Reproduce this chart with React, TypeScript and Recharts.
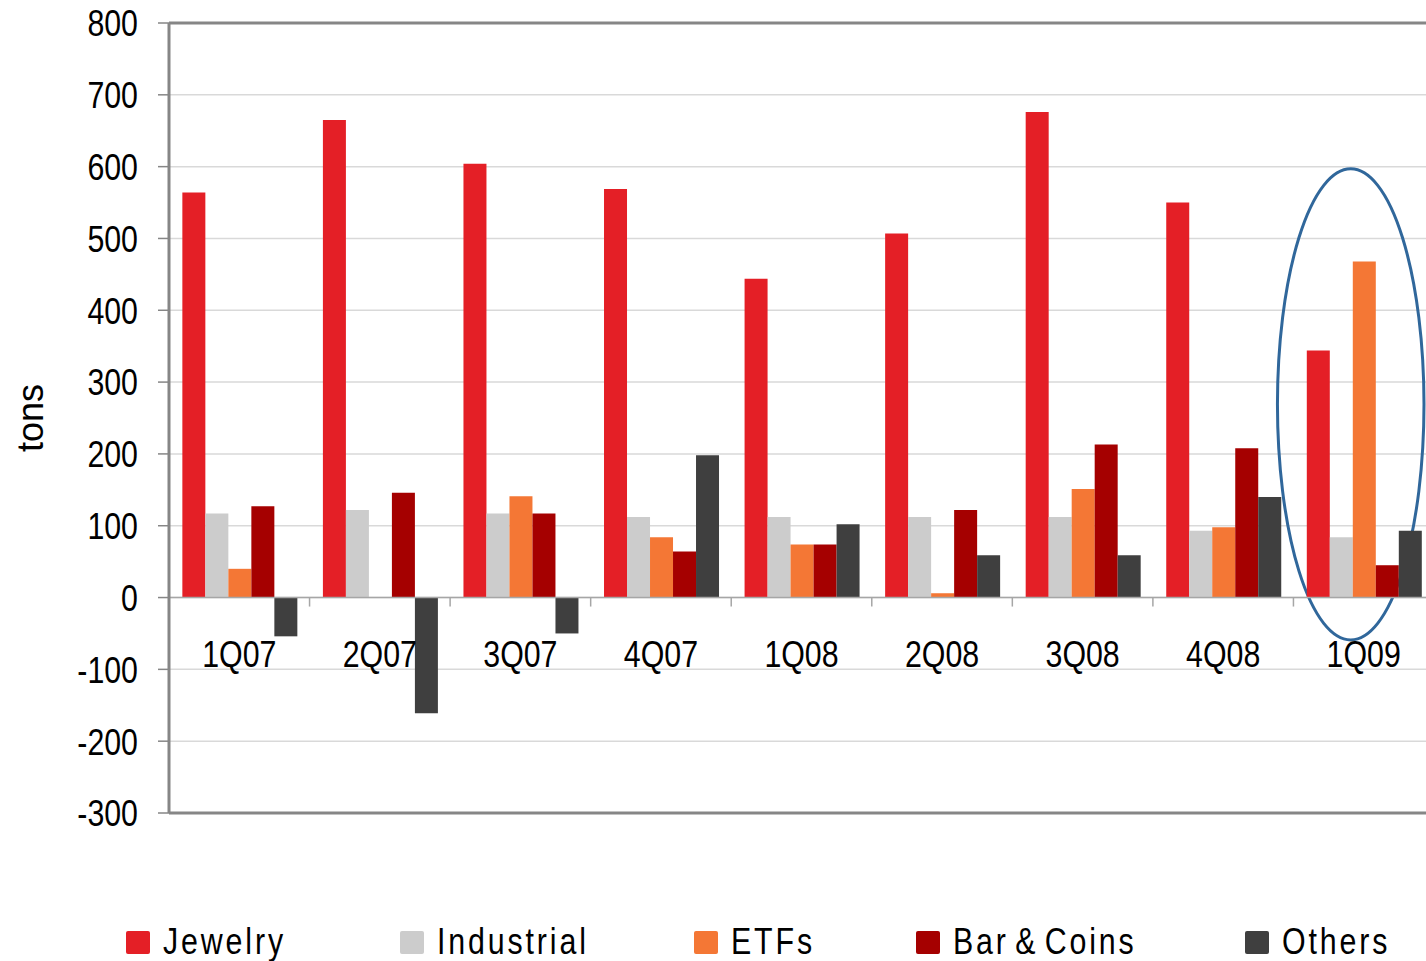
import React from "react";
import {
  BarChart,
  Bar,
  XAxis,
  YAxis,
  CartesianGrid,
  ReferenceLine,
  ReferenceArea,
} from "recharts";

const quarters = ["1Q07", "2Q07", "3Q07", "4Q07", "1Q08", "2Q08", "3Q08", "4Q08", "1Q09"];
const jewelry = [564, 665, 604, 569, 444, 507, 676, 550, 344];
const industrial = [117, 122, 117, 112, 112, 112, 112, 93, 84];
const etfs = [40, 0, 141, 84, 74, 6, 151, 98, 468];
const barCoins = [127, 146, 117, 64, 74, 122, 213, 208, 45];
const others = [-54, -161, -50, 198, 102, 59, 59, 140, 93];
const yTicks = [-300, -200, -100, 0, 100, 200, 300, 400, 500, 600, 700, 800];

const seriesList = [
  { key: "jewelry", name: "Jewelry", color: "#e41f26", values: jewelry },
  { key: "industrial", name: "Industrial", color: "#cccccc", values: industrial },
  { key: "etfs", name: "ETFs", color: "#f47735", values: etfs },
  { key: "barCoins", name: "Bar & Coins", color: "#a50000", values: barCoins },
  { key: "others", name: "Others", color: "#3f3f3f", values: others },
];

const data = quarters.map((q, i) => {
  const row: Record<string, string | number> = { quarter: q };
  for (const s of seriesList) row[s.key] = s.values[i];
  return row;
});

// no Arial Narrow here, so squeeze Liberation Sans horizontally
const FONT = '"Liberation Sans", Arial, sans-serif';
const SQUEEZE = 0.82;

const CHART_W = 1450;
const CHART_H = 961;
const PLOT_TOP = 23;
const PLOT_LEFT = 169;
const PLOT_BOTTOM = 813;
const PLOT_RIGHT = 1434;
const Y_MIN = -300;
const Y_MAX = 800;
const BAND = (PLOT_RIGHT - PLOT_LEFT) / quarters.length;
const ZERO_Y = PLOT_TOP + ((PLOT_BOTTOM - PLOT_TOP) * Y_MAX) / (Y_MAX - Y_MIN);

const legendLeft = [126, 400, 694, 916, 1245];

function QuarterTick(props: any) {
  const { x, payload } = props;
  return (
    <g>
      <line x1={x + BAND / 2} x2={x + BAND / 2} y1={ZERO_Y} y2={ZERO_Y + 9} stroke="#a6a6a6" strokeWidth={1.5} />
      <g transform={`translate(${x},${ZERO_Y + 69}) scale(${SQUEEZE},1)`}>
        <text x={0} y={0} textAnchor="middle" fontFamily={FONT} fontSize={37} fill="#000">
          {payload.value}
        </text>
      </g>
    </g>
  );
}

function ValueTick(props: any) {
  const { x, y, payload } = props;
  return (
    <g transform={`translate(${x},${y}) scale(${SQUEEZE},1)`}>
      <text x={0} y={0} dy="0.36em" textAnchor="end" fontFamily={FONT} fontSize={37} fill="#000">
        {payload.value}
      </text>
    </g>
  );
}

function Ellipse(props: any) {
  const { x, y, width, height } = props;
  return (
    <ellipse
      cx={x + width / 2 - 13}
      cy={y + height / 2}
      rx={width / 2 + 3}
      ry={height / 2}
      fill="none"
      stroke="#30679b"
      strokeWidth={3}
    />
  );
}

function TonsLabel(props: any) {
  const { viewBox } = props;
  const cx = 30;
  const cy = viewBox.y + viewBox.height / 2;
  return (
    <text
      x={cx}
      y={cy}
      transform={`rotate(-90 ${cx} ${cy})`}
      textAnchor="middle"
      dominantBaseline="central"
      fontFamily={FONT}
      fontSize={36}
      fill="#000"
    >
      tons
    </text>
  );
}

function LegendRow() {
  return (
    <div style={{ position: "absolute", left: 0, top: 922, width: 1426, height: 39 }}>
      {seriesList.map((s, i) => (
        <div
          key={s.key}
          style={{
            position: "absolute",
            left: legendLeft[i],
            top: 0,
            display: "flex",
            alignItems: "center",
            whiteSpace: "nowrap",
          }}
        >
          <span
            style={{
              display: "inline-block",
              width: 24,
              height: 23,
              background: s.color,
              borderRadius: 2,
              marginRight: 13,
              marginTop: 2,
            }}
          />
          <span
            style={{
              display: "inline-block",
              fontFamily: FONT,
              fontSize: 37,
              lineHeight: "39px",
              letterSpacing: 3.5,
              wordSpacing: -6,
              transform: `scaleX(${SQUEEZE})`,
              transformOrigin: "left center",
              color: "#000",
            }}
          >
            {s.name}
          </span>
        </div>
      ))}
    </div>
  );
}

export default function App() {
  return (
    <div
      style={{
        position: "absolute",
        left: 0,
        top: 0,
        width: 1426,
        height: 961,
        overflow: "hidden",
        background: "#fff",
      }}
    >
      <BarChart
        width={CHART_W}
        height={CHART_H}
        data={data}
        margin={{ top: PLOT_TOP, right: CHART_W - PLOT_RIGHT, bottom: CHART_H - PLOT_BOTTOM - 30, left: 0 }}
        barCategoryGap="9.5%"
        barGap={0}
      >
        <CartesianGrid vertical={false} stroke="#d9d9d9" strokeWidth={1.5} />
        <XAxis
          dataKey="quarter"
          height={30}
          axisLine={false}
          tickLine={false}
          tick={<QuarterTick />}
          interval={0}
        />
        <YAxis
          width={PLOT_LEFT}
          domain={[Y_MIN, Y_MAX]}
          ticks={yTicks}
          interval={0}
          axisLine={{ stroke: "#868686", strokeWidth: 3 }}
          tickLine={{ stroke: "#868686", strokeWidth: 1.5 }}
          tickSize={11}
          tickMargin={20}
          tick={<ValueTick />}
          label={<TonsLabel />}
        />
        <ReferenceLine y={Y_MAX} stroke="#868686" strokeWidth={3} />
        <ReferenceLine y={Y_MIN} stroke="#868686" strokeWidth={3} />
        {seriesList.map((s) => (
          <Bar key={s.key} dataKey={s.key} name={s.name} fill={s.color} isAnimationActive={false} />
        ))}
        <ReferenceLine y={0} stroke="#a6a6a6" strokeWidth={1.5} />
        <ReferenceArea x1="1Q09" x2="1Q09" y1={-59} y2={597} shape={<Ellipse />} />
      </BarChart>
      <LegendRow />
    </div>
  );
}
